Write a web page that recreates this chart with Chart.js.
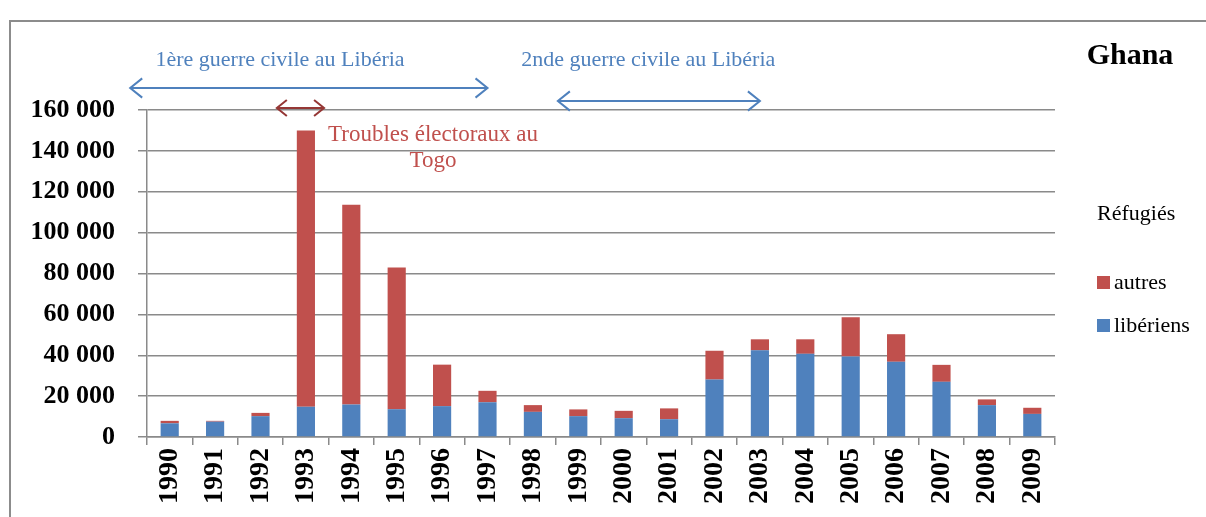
<!DOCTYPE html>
<html>
<head>
<meta charset="utf-8">
<script src="https://cdn.jsdelivr.net/npm/chart.js@4/dist/chart.umd.min.js"></script>
<style>
  html, body { margin: 0; padding: 0; background: #fff; overflow: hidden; }
  #wrap { position: relative; width: 1206px; height: 517px; }
  #frame { position: absolute; left: 9px; top: 20px; width: 1300px; height: 600px; border: 2px solid #8c8c8c; box-sizing: border-box; }
  canvas { position: absolute; left: 0; top: 0; }
</style>
</head>
<body>
<div id="wrap">
  <div id="frame"></div>
  <canvas id="chart" width="1206" height="517"></canvas>
</div>
<script>
// ── Data ─────────────────────────────────
const years = ['1990', '1991', '1992', '1993', '1994', '1995', '1996', '1997', '1998', '1999',
  '2000', '2001', '2002', '2003', '2004', '2005', '2006', '2007', '2008', '2009'];
const liberiens = [6700, 7500, 10200, 14800, 15900, 13600, 15100, 17000, 12300, 10200,
  9200, 8700, 28100, 42400, 40700, 39400, 36800, 27000, 15600, 11300];
const autres = [1200, 400, 1600, 135200, 97700, 69300, 20300, 5600, 3300, 3300,
  3600, 5300, 14100, 5400, 7100, 19200, 13500, 8300, 2800, 3000];

const BLUE = '#4f81bd';
const RED = '#c0504d';
const DARK_RED = '#953735';
const GRID = '#8a8a8a';
const SERIF = '"Liberation Serif", "DejaVu Serif", serif';

const fmt = v => String(v).replace(/\B(?=(\d{3})+(?!\d))/g, ' ');

function drawArrow(ctx, x1, x2, y, color, head, lw) {
  ctx.save();
  ctx.strokeStyle = color;
  ctx.lineWidth = lw;
  ctx.beginPath();
  ctx.moveTo(x1, y); ctx.lineTo(x2, y);
  ctx.moveTo(x1 + head, y - head * 0.8); ctx.lineTo(x1, y); ctx.lineTo(x1 + head, y + head * 0.8);
  ctx.moveTo(x2 - head, y - head * 0.8); ctx.lineTo(x2, y); ctx.lineTo(x2 - head, y + head * 0.8);
  ctx.stroke();
  ctx.restore();
}

// annotations: arrows, labels, title
const annotations = {
  id: 'annotations',
  afterDraw(chart) {
    const { ctx, chartArea } = chart;
    const x = chart.scales.x;
    const top = chartArea.top;

    drawArrow(ctx, x.getPixelForValue(-0.87), x.getPixelForValue(7.0), top - 22, BLUE, 12, 2);
    drawArrow(ctx, x.getPixelForValue(8.55), x.getPixelForValue(13.0), top - 9, BLUE, 12, 2);
    drawArrow(ctx, x.getPixelForValue(2.36), x.getPixelForValue(3.40), top - 2, DARK_RED, 10, 2);

    ctx.save();
    ctx.textAlign = 'center';
    ctx.textBaseline = 'middle';
    ctx.font = '22px ' + SERIF;
    ctx.fillStyle = BLUE;
    ctx.fillText('1ère guerre civile au Libéria', x.getPixelForValue(2.43), top - 50);
    ctx.fillText('2nde guerre civile au Libéria', x.getPixelForValue(10.54), top - 50);

    ctx.fillStyle = RED;
    ctx.font = '23px ' + SERIF;
    ctx.fillText('Troubles électoraux au', x.getPixelForValue(5.8), top + 25);
    ctx.fillText('Togo', x.getPixelForValue(5.8), top + 51);

    ctx.fillStyle = '#000';
    ctx.font = 'bold 30px ' + SERIF;
    ctx.fillText('Ghana', chartArea.right + 75, top - 54);
    ctx.restore();
  }
};

// legend on the right, items listed top series first
const sideLegend = {
  id: 'sideLegend',
  afterDraw(chart) {
    const { ctx, chartArea } = chart;
    const lx = chartArea.right + 42;
    ctx.save();
    ctx.textBaseline = 'middle';
    ctx.textAlign = 'left';
    ctx.font = '22px ' + SERIF;
    ctx.fillStyle = '#000';
    ctx.fillText('Réfugiés', lx, 214);
    const items = chart.data.datasets.slice().reverse();
    items.forEach((ds, i) => {
      const cy = 282 + i * 43;
      ctx.fillStyle = ds.backgroundColor;
      ctx.fillRect(lx, cy - 6, 13, 13);
      ctx.fillStyle = '#000';
      ctx.fillText(ds.label, lx + 17, cy + 1);
    });
    ctx.restore();
  }
};

new Chart(document.getElementById('chart'), {
  type: 'bar',
  data: {
    labels: years,
    datasets: [
      { label: 'libériens', data: liberiens, backgroundColor: BLUE, barPercentage: 0.4, categoryPercentage: 1 },
      { label: 'autres', data: autres, backgroundColor: RED, barPercentage: 0.4, categoryPercentage: 1 }
    ]
  },
  options: {
    responsive: false,
    animation: false,
    layout: { padding: { top: 110, right: 151, left: 0, bottom: 0 } },
    plugins: { legend: { display: false }, tooltip: { enabled: false }, title: { display: false } },
    scales: {
      x: {
        stacked: true,
        afterFit: s => { s.height = 80; },
        grid: { drawOnChartArea: false, drawTicks: true, tickLength: 8, color: GRID, lineWidth: 1.5 },
        border: { color: GRID, width: 1.5 },
        ticks: {
          color: '#000', maxRotation: 90, minRotation: 90, padding: 3, autoSkip: false,
          font: { family: SERIF, size: 28, weight: 'bold' }
        }
      },
      y: {
        stacked: true,
        min: 0, max: 160000,
        afterFit: s => { s.width = 147; },
        grid: { color: GRID, lineWidth: 1.5, tickLength: 9 },
        border: { color: GRID, width: 1.5 },
        ticks: {
          stepSize: 20000, color: '#000', padding: 23,
          font: { family: SERIF, size: 26, weight: 'bold' },
          callback: v => fmt(v)
        }
      }
    }
  },
  plugins: [annotations, sideLegend]
});
</script>
</body>
</html>
